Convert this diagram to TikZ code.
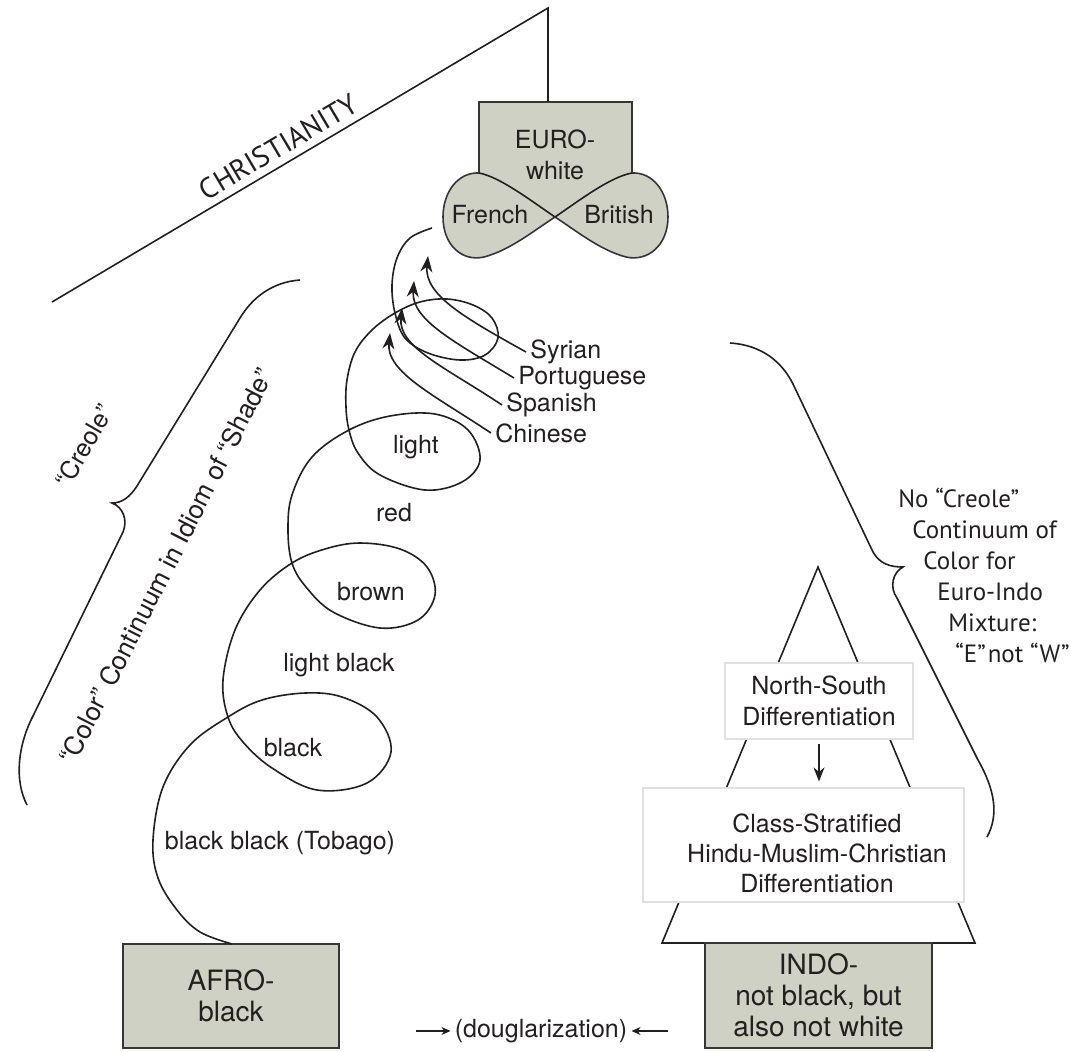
\documentclass[tikz,border=0pt]{standalone}
\usepackage{fontspec}
\setmainfont{TeX Gyre Heros}
\newfontfamily\myriadlike{PT Sans}
\usepackage{tikz}
\usetikzlibrary{arrows.meta}
\definecolor{boxgray}{HTML}{CFD1C4}
\definecolor{ink}{HTML}{231F20}

\begin{document}
\begin{tikzpicture}[x=0.5pt, y=-0.5pt,
                    every node/.style={font=\fontsize{12.5}{15.5}\selectfont, text=ink},
                    inkline/.style={draw=ink, line width=0.8pt},
                    graybox/.style={draw=ink!90, fill=boxgray, line width=1pt, align=center,
                                    font=\fontsize{14}{15.5}\selectfont},
                    whitebox/.style={draw=black!12, fill=white, line width=0.6pt, align=center},
                    lbl/.style={anchor=west, inner sep=2pt},
                    myr/.style={font=\myriadlike\fontsize{12.5}{15.5}\selectfont},
                    coilarrow/.style={-{Stealth[length=8pt,width=6pt]}},
                    smallarrow/.style={-{Stealth[length=4.5pt,width=4pt]}}]
    \useasboundingbox (0,0) rectangle (1083,1051);

    \coordinate (cstart) at (52,302);
    \coordinate (capex) at (548,8);
    \coordinate (eurotop) at (548,102);
    \draw[inkline] (cstart) -- (capex)
        node[pos=0.475, above, sloped, myr, font=\myriadlike\fontsize{14.5}{16}\selectfont] (christ) {CHRISTIANITY}
        -- (eurotop);

    \filldraw[boxgray, draw=ink!90, line width=0.8pt]
        (479,102) -- (632,102) -- (632,173)
        .. controls (653,172) and (668,192) .. (668,217)
        .. controls (668,245) and (648,262) .. (626,257)
        .. controls (600,250) and (578,232) .. (555,217)
        .. controls (532,232) and (510,250) .. (484,257)
        .. controls (462,262) and (443,245) .. (443,217)
        .. controls (443,192) and (458,172) .. (479,173) -- cycle;
    \draw[inkline] (479,173) .. controls (500,177) and (530,200) .. (555,217)
        .. controls (580,200) and (610,177) .. (632,173);
    \node[align=center] (euro) at (555,155) {EURO-\\white};
    \node (french) at (490,215) {French};
    \node (british) at (619,215) {British};

    \node[graybox, minimum width=108pt, minimum height=52pt] (afro) at (231,996) {AFRO-\\black};

    \draw[inkline] plot[smooth, tension=0.6] coordinates {
        (432,228) (410,238) (397,258) (392,285) (395,313) (405,338) (428,353)
        (460,360) (485,355) (498,338) (492,318) (473,305) (447,299) (420,302)
        (395,313) (372,330) (355,352) (347,380) (346,407) (349,430) (358,453)
        (380,475) (425,490) (462,482) (480,460) (468,430) (435,414) (390,416)
        (349,430) (312,457) (292,495) (288,530) (292,563) (306,587) (333,612)
        (380,628) (418,620) (435,595) (427,567) (400,549) (360,543) (325,549)
        (292,563) (260,590) (235,630) (223,680) (228,717) (243,742) (272,768)
        (317,790) (367,783) (391,752) (377,717) (342,697) (305,693) (262,700)
        (228,717) (190,745) (163,787) (153,840) (158,878) (177,910) (200,932)
        (232,944)};

    \node (light) at (416,447) {light};
    \node (red) at (394,513) {red};
    \node (brown) at (371,592) {brown};
    \node (lightblack) at (339,665) {light black};
    \node (black) at (293,748) {black};
    \node (tobago) at (280,843) {black black (Tobago)};

    \node[lbl] (syr) at (526,352) {Syrian};
    \node[lbl] (por) at (514,378) {Portuguese};
    \node[lbl] (spa) at (502,405) {Spanish};
    \node[lbl] (chi) at (491,433) {Chinese};
    \coordinate (syrtip) at (428,256);
    \coordinate (portip) at (414,281);
    \coordinate (spatip) at (402,308);
    \coordinate (chitip) at (390,333);
    \draw[inkline, coilarrow] (syr.west) .. controls (465,318) and (424,295) .. (syrtip);
    \draw[inkline, coilarrow] (por.west) .. controls (455,342) and (411,320) .. (portip);
    \draw[inkline, coilarrow] (spa.west) .. controls (445,367) and (398,347) .. (spatip);
    \draw[inkline, coilarrow] (chi.west) .. controls (434,395) and (386,372) .. (chitip);

    \draw[inkline] (300,280) .. controls (272,282) and (252,298) .. (240,318)
        -- (137,486) .. controls (130,497) and (122,503) .. (112,503)
        .. controls (123,507) and (128,520) .. (123,532)
        -- (33,716) .. controls (18,745) and (14,780) .. (27,805);
    \node[rotate=60] (creole) at (84,446) {“Creole”};
    \node[rotate=63, font=\fontsize{13}{15.5}\selectfont] (shade) at (166,566)
        {“Color” Continuum in Idiom of “Shade”};

    \draw[inkline] (730,343) .. controls (762,345) and (782,362) .. (793,384)
        -- (873,552) .. controls (880,564) and (890,567) .. (903,567)
        .. controls (893,572) and (889,587) .. (897,598)
        -- (978,760) .. controls (995,790) and (999,815) .. (987,837);
    \node[myr, align=left, anchor=west, inner sep=0pt] (nocreole) at (898,575)
        {No “Creole”\\
         \hspace*{7pt}Continuum of\\
         \hspace*{12.5pt}Color for\\
         \hspace*{19.5pt}Euro-Indo\\
         \hspace*{25pt}Mixture:\\
         \hspace*{28.5pt}“E”\hspace{1pt}not “W”};

    \coordinate (iapex) at (818,567);
    \coordinate (ileft) at (662,943);
    \coordinate (iright) at (975,943);
    \draw[inkline] (ileft) -- (iapex) -- (iright) -- cycle;
    \node[whitebox, minimum width=94pt, minimum height=38pt] (ns) at (819,701)
        {North-South\\Differentiation};
    \node[whitebox, minimum width=160.5pt, minimum height=57pt] (clsbox) at (803.5,845) {};
    \node[align=center, font=\fontsize{12.5}{15}\selectfont] (cls) at (817,853)
        {Class-Stratified\\Hindu-Muslim-Christian\\Differentiation};
    \draw[inkline, -{Stealth[length=7pt,width=5.5pt]}, shorten <=2pt, shorten >=3pt]
        (ns.south) -- (ns.south |- clsbox.north);
    \node[graybox, minimum width=113.5pt, minimum height=52.5pt] (indo) at (818.5,995.5)
        {INDO-\\not black, but\\also not white};

    \node[inner xsep=2pt] (doug) at (541,1031) {(douglarization)};
    \coordinate (dleft) at (416,1031);
    \coordinate (dright) at (668,1031);
    \draw[inkline, line width=0.6pt, smallarrow] (dleft) -- (doug.west);
    \draw[inkline, line width=0.6pt, smallarrow] (dright) -- (doug.east);
\end{tikzpicture}
\end{document}
